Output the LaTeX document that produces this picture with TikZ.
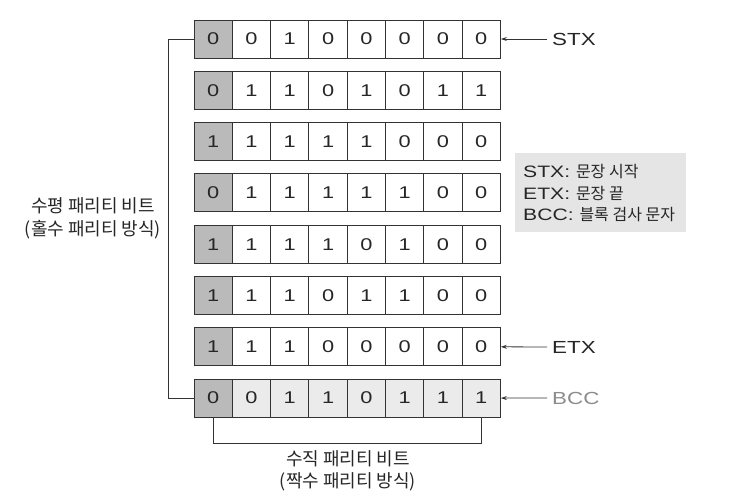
\documentclass[tikz,border=0pt]{standalone}
\usepackage{fontspec}
\setmainfont{Liberation Sans}[FakeStretch=1.28]
\newfontfamily\kr{Noto Sans CJK KR}
\usetikzlibrary{arrows.meta}
\begin{document}
\begin{tikzpicture}[x=1pt,y=-1pt,
  cell/.style={draw=black!80, line width=0.9pt, minimum width=38.3pt, minimum height=38pt,
    inner sep=0pt, font=\fontsize{17}{17}\selectfont, text=black!85},
  conn/.style={draw=black!80, line width=0.8pt},
  arr/.style={conn, -{Stealth[length=6pt,width=4pt]}},
  lbl/.style={inner sep=0pt, anchor=west, font=\fontsize{17.5}{17.5}\selectfont, text=black!85},
  leg/.style={inner sep=0pt, anchor=west, font=\fontsize{16.5}{16.5}\selectfont, text=black!85},
  krtext/.style={inner sep=0pt, align=center, font=\kr\fontsize{18}{22.5}\selectfont, text=black!85}
]
\useasboundingbox (0,0) rectangle (732,498);
% legend background
\fill[black!10] (515,153) rectangle (686,232);
% cells
\foreach \rowbits [count=\r] in {{0,0,1,0,0,0,0,0},{0,1,1,0,1,0,1,1},{1,1,1,1,1,0,0,0},{0,1,1,1,1,1,0,0},{1,1,1,1,0,1,0,0},{1,1,1,0,1,1,0,0},{1,1,1,0,0,0,0,0},{0,0,1,1,0,1,1,1}}{
  \foreach \b [count=\c] in \rowbits {
    \ifnum\c=1 \def\fc{black!27}\else\ifnum\r=8 \def\fc{black!8}\else\def\fc{white}\fi\fi
    \node[cell, fill=\fc] (c\r-\c) at ({194+38.3*(\c-0.5)}, {39+51.3*(\r-1)}) {\b};
  }
}
% labels with arrows
\node[lbl] (stx) at (552,39) {STX};
\node[lbl] (etx) at (552,347) {ETX};
\node[lbl, text=black!45] (bcc) at (552,398) {BCC};
\draw[arr] ([xshift=-5pt]stx.west) -- (c1-8.east);
\draw[arr] ([xshift=-5pt]etx.west) -- (c7-8.east);
\draw[arr] ([xshift=-5pt]bcc.west) -- (c8-8.east);
% legend text
\node[leg] (l1) at (523,172) {STX: {\kr\fontsize{16}{16}\selectfont 문장 시작}};
\node[leg] (l2) at (523,193.5) {ETX: {\kr\fontsize{16}{16}\selectfont 문장 끝}};
\node[leg] (l3) at (523,215) {BCC: {\kr\fontsize{16}{16}\selectfont 블록 검사 문자}};
% horizontal parity bracket
\draw[conn] (c1-1.west) -- ++(-25,0) |- (c8-1.west);
\node[krtext] (hp) at (93,218.5) {수평 패리티 비트\\(홀수 패리티 방식)};
% vertical parity bracket
\draw[conn] (c8-1.south) -- ++(0,26) -| (c8-8.south);
\node[krtext] (vp) at (348,471) {수직 패리티 비트\\(짝수 패리티 방식)};
\end{tikzpicture}
\end{document}
